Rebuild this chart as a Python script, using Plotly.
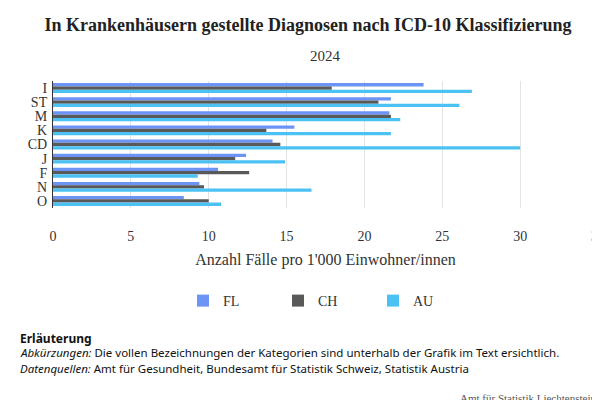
import plotly.graph_objects as go

categories = ["I", "ST", "M", "K", "CD", "J", "F", "N", "O"]
fl = [23.8, 21.7, 21.6, 15.5, 14.1, 12.4, 10.6, 9.4, 8.4]
ch = [17.9, 20.9, 21.7, 13.7, 14.6, 11.7, 12.6, 9.7, 10.0]
au = [26.9, 26.1, 22.3, 21.7, 30.0, 14.9, 9.3, 16.6, 10.8]
series = [("FL", fl, "#6b94f4"), ("CH", ch, "#595959"), ("AU", au, "#4bc2f3")]

fig = go.Figure()
for name, vals, col in series:
    fig.add_trace(go.Bar(y=categories, x=vals, name=name, orientation="h",
                         marker=dict(color=col, line=dict(width=0))))

serif = "Liberation Serif"
H = 400
def py(px):
    # convert pixel y (from top) into paper coordinates
    top, bottom = 73, H - 200
    return (bottom - px) / (bottom - top)

fig.update_layout(
    width=600, height=400, barmode="group", bargap=0.3, bargroupgap=0.0,
    plot_bgcolor="white", paper_bgcolor="white",
    font=dict(family=serif, color="#333"),
    margin=dict(l=45, r=10, t=73, b=200, autoexpand=False),
    title=dict(text="<b>In Krankenhäusern gestellte Diagnosen nach ICD-10 Klassifizierung</b>",
               x=0.5, xanchor="center", y=0.975, yanchor="top",
               font=dict(family=serif, size=18, color="#222")),
    xaxis=dict(range=[0, 35], dtick=5, showgrid=True, gridcolor="#e3e3e3",
               zeroline=False, ticklabelstandoff=18,
               tickfont=dict(family=serif, size=14, color="#333"),
               title=dict(text="Anzahl Fälle pro 1'000 Einwohner/innen",
                          font=dict(family=serif, size=16, color="#333"), standoff=10)),
    yaxis=dict(autorange="reversed", showline=True, linecolor="#333", linewidth=1,
               ticks="", tickmode="array", tickvals=categories, ticktext=categories,
               ticklabelstandoff=2,
               tickfont=dict(family=serif, size=14, color="#333")),
    legend=dict(orientation="h", x=0.5, xanchor="center", y=py(293), yanchor="middle",
                font=dict(family=serif, size=14, color="#333"), itemsizing="constant",
                entrywidth=50),
    annotations=[
        dict(text="2024", xref="paper", yref="paper", x=0.5, y=py(48), yanchor="middle",
             showarrow=False, font=dict(family=serif, size=15, color="#333")),
        dict(text="<b>Erläuterung</b>", xref="paper", yref="paper", x=-0.064, y=py(330),
             xanchor="left", yanchor="middle", showarrow=False,
             font=dict(family="Noto Sans", size=12, color="#111")),
        dict(text="<i>Abkürzungen:</i> Die vollen Bezeichnungen der Kategorien sind unterhalb der Grafik im Text ersichtlich.",
             xref="paper", yref="paper", x=-0.064, y=py(345), xanchor="left", yanchor="middle",
             showarrow=False, font=dict(family="Noto Sans", size=11.5, color="#111")),
        dict(text="<i>Datenquellen:</i> Amt für Gesundheit, Bundesamt für Statistik Schweiz, Statistik Austria",
             xref="paper", yref="paper", x=-0.064, y=py(360), xanchor="left", yanchor="middle",
             showarrow=False, font=dict(family="Noto Sans", size=11.5, color="#111")),
        dict(text="Amt für Statistik Liechtenstein", xref="paper", yref="paper",
             x=1.0, y=py(390), xanchor="right", yanchor="middle", showarrow=False,
             font=dict(family=serif, size=11, color="#555")),
    ],
)
fig.write_html("out.html")
